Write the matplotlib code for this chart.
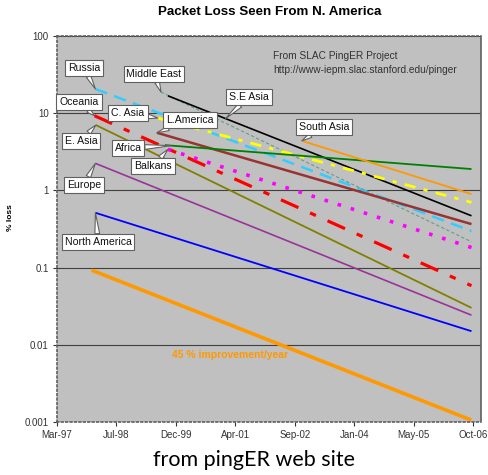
import datetime as dt
import matplotlib
matplotlib.use("Agg")
import matplotlib.pyplot as plt
import matplotlib.dates as mdates
import numpy as np

plt.rcParams['font.family'] = ['Liberation Sans', 'DejaVu Sans']

# regions: trend line start (date, % loss) and end (date, % loss)
regions = ["Russia", "Middle East", "S.E Asia", "Oceania", "C. Asia", "L.America",
           "E. Asia", "Africa", "Balkans", "Europe", "North America", "South Asia"]
start_dates = ["1998-02-01", "1999-08-07", "1999-10-04", "1998-01-25", "1999-07-12", "1999-07-04",
               "1998-02-05", "1999-09-09", "1999-10-04", "1998-02-01", "1998-02-01", "2002-11-04"]
start_vals = [20.6, 18.8, 16.8, 9.27, 8.65, 5.58, 7.02, 3.86, 3.40, 2.24, 0.513, 4.39]
end_dates = ["2006-10-01"] * 12
end_vals = [0.297, 0.216, 0.469, 0.0583, 0.699, 0.366, 0.0301, 1.89, 0.182, 0.0242, 0.0150, 0.895]

# 45 %/year improvement reference line
improve_dates = ["1998-01-15", "2006-09-15"]
improve_vals = [0.0908, 0.00108]

x_ticklabels = ["Mar-97", "Jul-98", "Dec-99", "Apr-01", "Sep-02", "Jan-04", "May-05", "Oct-06"]
y_ticks = [0.001, 0.01, 0.1, 1, 10, 100]
y_ticklabels = ["0.001", "0.01", "0.1", "1", "10", "100"]

styles = {
    "Russia": dict(color='#33CCFF', lw=1.8, dashes=(5, 3)),
    "Middle East": dict(color='#5F9F8A', lw=0.8, dashes=(3, 2)),
    "S.E Asia": dict(color='black', lw=1.2),
    "Oceania": dict(color='#FF0000', lw=2.3, dashes=(6, 4, 2, 4)),
    "C. Asia": dict(color='#FFFF00', lw=2.0, dashes=(4, 3, 1.5, 3)),
    "L.America": dict(color='#993333', lw=1.8),
    "E. Asia": dict(color='#808000', lw=1.3),
    "Africa": dict(color='#008000', lw=1.3),
    "Balkans": dict(color='#FF00FF', lw=2.6, dashes=(1, 2.8)),
    "Europe": dict(color='#993399', lw=1.2),
    "North America": dict(color='#0000FF', lw=1.3),
    "South Asia": dict(color='#FF9900', lw=1.3),
}

# callout box centres in pixels (from top-left), and where along the line the pointer lands
callouts = {
    "Russia": (84, 68, 0), "Middle East": (154, 74, 0), "S.E Asia": (249, 97, 0.19),
    "Oceania": (79, 102, 0), "C. Asia": (128, 113, 0), "L.America": (190, 120, 0),
    "E. Asia": (81, 141, 0), "Africa": (128, 148, 0.02), "Balkans": (153, 166, 0),
    "Europe": (84, 185, 0), "North America": (98, 242, 0), "South Asia": (324, 127, 0),
}

W, H = 489, 475
fig = plt.figure(figsize=(W / 100, H / 100), dpi=100)
ax = fig.add_axes([57 / W, 53 / H, 424 / W, 386 / H])
ax.set_facecolor('#C0C0C0')

d = lambda s: dt.datetime.strptime(s, "%Y-%m-%d")

for i, name in enumerate(regions):
    xs = [d(start_dates[i]), d(end_dates[i])]
    ys = [start_vals[i], end_vals[i]]
    ax.plot(xs, ys, solid_capstyle='butt', **styles[name])

ax.plot([d(s) for s in improve_dates], improve_vals, color='#FF9900', lw=2.6)

ax.set_yscale('log')
ax.set_ylim(0.001, 100)
ax.set_yticks(y_ticks)
ax.set_yticklabels(y_ticklabels)
ax.yaxis.set_minor_locator(matplotlib.ticker.NullLocator())

x0 = dt.datetime(1997, 3, 15)
xticks = [x0 + dt.timedelta(days=500 * k) for k in range(len(x_ticklabels))]
ax.set_xlim(x0, x0 + dt.timedelta(days=3567))
ax.set_xticks(xticks)
ax.set_xticklabels(x_ticklabels)

ax.tick_params(labelsize=7, colors='#333333', length=3, width=0.8, pad=3)
ax.yaxis.grid(True, color='#404040', lw=0.8)
ax.set_axisbelow(True)
for sp in ax.spines.values():
    sp.set_color('#606060')
    sp.set_linestyle(':')
    sp.set_linewidth(1.2)
ax.spines['right'].set_linestyle('-')

# callouts
for i, name in enumerate(regions):
    cx, cy, t = callouts[name]
    xa = mdates.date2num(d(start_dates[i]))
    xb = mdates.date2num(d(end_dates[i]))
    px = xa + t * (xb - xa)
    py = 10 ** (np.log10(start_vals[i]) + t * (np.log10(end_vals[i]) - np.log10(start_vals[i])))
    ax.annotate(name, xy=(px, py), xycoords='data',
                xytext=(cx, H - cy), textcoords='figure pixels',
                ha='center', va='center', fontsize=7.6, color='#111111',
                bbox=dict(boxstyle='square,pad=0.28', fc='white', ec='#606060', lw=0.8),
                arrowprops=dict(arrowstyle='wedge,tail_width=0.45', fc='white',
                                ec='#606060', lw=0.8, shrinkA=0, shrinkB=0))

fig.text(273 / W, 1 - 56 / H, "From SLAC PingER Project", fontsize=7.3, color='#333333',
         va='center')
fig.text(273 / W, 1 - 70 / H, "http://www-iepm.slac.stanford.edu/pinger", fontsize=7.3,
         color='#333333', va='center')
fig.text(172 / W, 1 - 355 / H, "45 % improvement/year", fontsize=7.5, color='#FF9900',
         fontweight='bold', va='center')

fig.text(270 / W, 1 - 12 / H, "Packet Loss Seen From N. America", fontsize=9.6,
         fontweight='bold', ha='center', va='center')
fig.text(10 / W, 1 - 218 / H, "% loss", fontsize=6, fontweight='bold', rotation=90,
         ha='center', va='center')
fig.text(254 / W, 1 - 460 / H, "from pingER web site", fontsize=15.5, ha='center',
         va='center', family=['Lato', 'DejaVu Sans'])

fig.savefig("out.png", dpi=100)
